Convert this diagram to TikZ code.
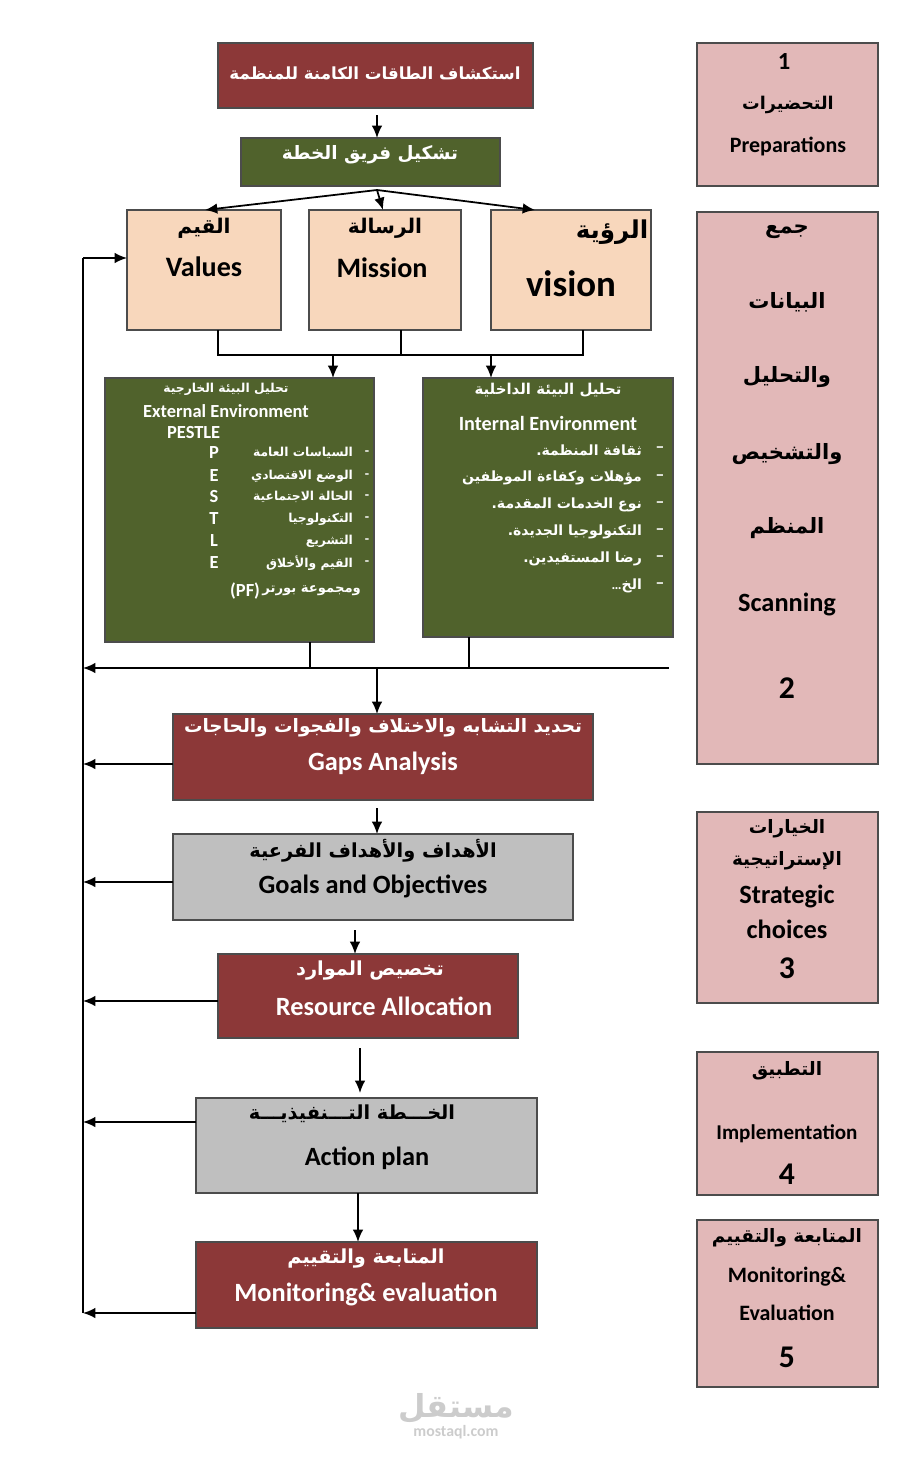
\documentclass[tikz,border=0pt]{standalone}
\usepackage{fontspec}
\setmainfont{Carlito}
\newfontfamily\arabicfont[Script=Arabic]{DejaVu Sans}
\TeXXeTstate=1
\usetikzlibrary{positioning,arrows.meta}
\definecolor{planred}{RGB}{140,56,56}
\definecolor{plangreen}{RGB}{80,98,44}
\definecolor{plangray}{RGB}{191,191,191}
\definecolor{planpeach}{RGB}{248,215,188}
\definecolor{planpink}{RGB}{226,184,184}
\newcommand{\ar}[1]{{\arabicfont\beginR #1\endR}}
\newcommand{\fs}[1]{\fontsize{#1}{#1}\selectfont}
\tikzset{
    box/.style={draw=black!70, line width=0.9pt, inner sep=0pt},
    redbox/.style={box, fill=planred},
    greenbox/.style={box, fill=plangreen},
    graybox/.style={box, fill=plangray},
    peachbox/.style={box, fill=planpeach},
    pinkbox/.style={box, fill=planpink},
    txt/.style={inner sep=1pt, font=\bfseries},
    wtxt/.style={txt, text=white},
    line/.style={draw, line width=1pt, -{Latex[length=7pt,width=6pt]}},
    plain/.style={draw, line width=0.8pt}
}
\begin{document}
\begin{tikzpicture}[x=0.02cm,y=-0.02cm]
    \useasboundingbox (0,0) rectangle (912,1467);
    % Main column
    \path[redbox] (218,43) rectangle (533,108);
    \node[wtxt] at (375,73) {\fs{9.5}\ar{استكشاف الطاقات الكامنة للمنظمة}};
    \path[greenbox] (241,138) rectangle (500,186);
    \node[wtxt] (team) at (370,155) {\fs{10.5}\ar{تشكيل فريق الخطة}};
    \coordinate (teamtop) at (377,138);
    \coordinate (teambot) at (377,190);
    \path[line] (377,115) -- (teamtop);

    % Values, mission, vision
    \path[peachbox] (127,210) rectangle (281,330);
    \node[txt] at (204,228) {\fs{11.5}\ar{القيم}};
    \node[txt] (values) at (204,267) {\fs{16}Values};
    \path[peachbox] (309,210) rectangle (461,330);
    \node[txt] at (385,228) {\fs{11.5}\ar{الرسالة}};
    \node[txt] (mission) at (382,268) {\fs{16}Mission};
    \path[peachbox] (491,210) rectangle (651,330);
    \node[txt] at (612,232) {\fs{14}\ar{الرؤية}};
    \node[txt] (vision) at (571,284) {\fs{21}vision};
    \coordinate (valtop) at (205,210);
    \coordinate (mistop) at (383,210);
    \coordinate (vistop) at (535,210);
    \foreach \t in {valtop,mistop,vistop}
        \path[line] (teambot) -- (\t);

    % Bracket to environments
    \path[plain] (218,330) -- (218,355) -- (583,355) -- (583,330);
    \path[plain] (401,330) -- (401,355);
    \path[line] (333,355) -- (333,378);
    \path[line] (491,355) -- (491,378);

    % External environment
    \path[greenbox] (105,378) rectangle (374,642);
    \node[wtxt] at (226,389) {\fs{7}\ar{تحليل البيئة الخارجية}};
    \node[wtxt] at (226,411) {\fs{10.5}External Environment};
    \node[wtxt, anchor=west] at (165,433) {\fs{10.5}PESTLE};
    \foreach \y/\l/\a in {453/P/السياسات العامة, 476/E/الوضع الاقتصادي, 497/S/الحالة الاجتماعية,
                          519/T/التكنولوجيا, 541/L/التشريع, 563/E/القيم والأخلاق} {
        \node[wtxt] at (214,\y) {\fs{10.5}\l};
        \node[wtxt, anchor=east] at (355,\y) {\fs{7}\ar{\a}};
        \node[wtxt] at (367,\y) {\fs{8}-};
    }
    \node[wtxt, anchor=east] (porter) at (363,591) {\fs{7.5}\ar{ومجموعة بورتر}};
    \node[wtxt, anchor=east, inner sep=0pt] at (porter.west) {\fs{10.5}(PF)};

    % Internal environment
    \path[greenbox] (423,378) rectangle (673,637);
    \node[wtxt] at (548,390) {\fs{8.5}\ar{تحليل البيئة الداخلية}};
    \node[wtxt] at (548,423) {\fs{11.5}Internal Environment};
    \foreach \y/\a in {450/{\ar{ثقافة المنظمة.}}, 478/{\ar{مؤهلات وكفاءة الموظفين}}, 505/{\ar{نوع الخدمات المقدمة.}},
                       532/{\ar{التكنولوجيا الجديدة.}}, 559/{\ar{رضا المستفيدين.}}, 586/{\ldots\ar{الخ}}} {
        \node[wtxt, anchor=east] at (644,\y) {\fs{8}\a};
        \node[wtxt] at (660,\y) {\fs{10}--};
    }

    % Merge below environments
    \coordinate (fb1) at (83,668);
    \path[plain] (310,642) -- (310,668) -- (669,668);
    \path[plain] (469,637) -- (469,668);
    \path[line] (469,668) -- (fb1);
    \path[line] (377,668) -- (377,714);

    % Gaps
    \path[redbox] (173,714) rectangle (593,800);
    \node[wtxt] at (383,728) {\fs{10.5}\ar{تحديد التشابه والاختلاف والفجوات والحاجات}};
    \node[wtxt] (gaps) at (383,763) {\fs{15}Gaps Analysis};
    \path[line] (377,808) -- (377,834);

    % Goals
    \path[graybox] (173,834) rectangle (573,920);
    \node[txt] at (373,851) {\fs{11}\ar{الأهداف والأهداف الفرعية}};
    \node[txt] (goals) at (373,886) {\fs{15}Goals and Objectives};
    \path[line] (355,930) -- (355,954);

    % Resources
    \path[redbox] (218,954) rectangle (518,1038);
    \node[wtxt] at (370,971) {\fs{11}\ar{تخصيص الموارد}};
    \node[wtxt] (res) at (384,1006) {\fs{15}Resource Allocation};
    \path[line] (360,1048) -- (360,1093);

    % Action plan
    \path[graybox] (196,1098) rectangle (537,1193);
    \node[txt] at (352,1114) {\fs{11}\ar{الخـــطة التـــنفيذيـــة}};
    \node[txt] (action) at (367,1158) {\fs{15}Action plan};
    \path[line] (358,1193) -- (358,1242);

    % Monitoring
    \path[redbox] (196,1242) rectangle (537,1328);
    \node[wtxt] at (366,1259) {\fs{11}\ar{المتابعة والتقييم}};
    \node[wtxt] (monit) at (366,1294) {\fs{15}Monitoring\& evaluation};

    % Feedback loop
    \path[plain] (83,1313) -- (83,258);
    \path[line] (83,258) -- (127,258);
    \foreach \x/\y in {173/764, 173/882, 218/1001, 196/1122, 196/1313}
        \path[line] (\x,\y) -- (83,\y);

    % Phase column
    \path[pinkbox] (697,43) rectangle (878,186);
    \node[txt] at (784,62) {\fs{14}1};
    \node[txt] at (788,105) {\fs{10}\ar{التحضيرات}};
    \node[txt] at (788,147) {\fs{12.5}Preparations};
    \path[pinkbox] (697,212) rectangle (878,764);
    \foreach \y/\a in {232/جمع, 302/البيانات, 377/والتحليل, 454/والتشخيص, 528/المنظم}
        \node[txt] at (787,\y) {\fs{12}\ar{\a}};
    \node[txt] at (787,604) {\fs{15}Scanning};
    \node[txt] at (787,688) {\fs{18}2};
    \path[pinkbox] (697,812) rectangle (878,1003);
    \node[txt] at (787,829) {\fs{10.5}\ar{الخيارات}};
    \node[txt] at (787,861) {\fs{10.5}\ar{الإستراتيجية}};
    \node[txt] at (787,896) {\fs{15}Strategic};
    \node[txt] at (787,929) {\fs{15}choices};
    \node[txt] at (787,968) {\fs{18}3};
    \path[pinkbox] (697,1052) rectangle (878,1195);
    \node[txt] at (787,1071) {\fs{10.5}\ar{التطبيق}};
    \node[txt] at (787,1134) {\fs{12}Implementation};
    \node[txt] at (787,1174) {\fs{18}4};
    \path[pinkbox] (697,1220) rectangle (878,1387);
    \node[txt] at (787,1238) {\fs{10.5}\ar{المتابعة والتقييم}};
    \node[txt] at (787,1277) {\fs{12.5}Monitoring\&};
    \node[txt] at (787,1313) {\fs{12.5}Evaluation};
    \node[txt] at (787,1357) {\fs{18}5};

    % Watermark
    \node[txt, text=black!20] at (456,1408) {\fs{18}\ar{مستقل}};
    \node[txt, text=black!20] at (456,1432) {\fs{9}mostaql.com};
\end{tikzpicture}
\end{document}
